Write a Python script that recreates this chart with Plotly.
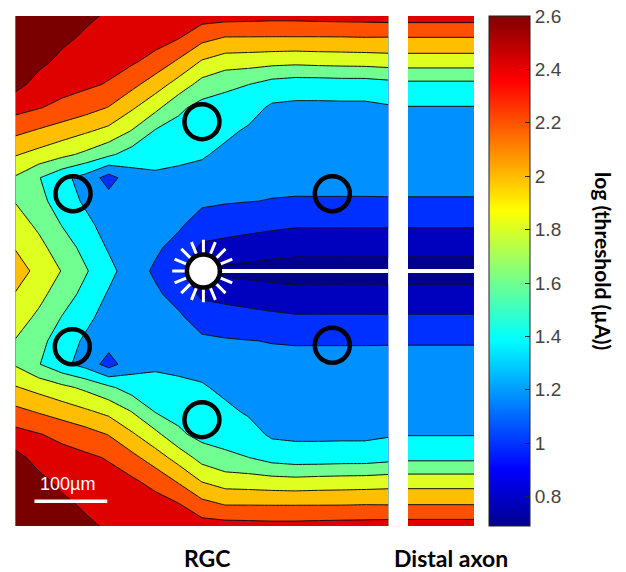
import plotly.graph_objects as go

# ---------------- data ----------------
# model grid positions in micrometres (soma at 0,0; axon along +x at y = 0)
x_um = [-256, -224, -192, -160, -128, -96, -64, -32, 0, 32, 64, 96, 128, 160, 192, 224, 256]
y_um = [-352, -320, -288, -256, -224, -192, -160, -128, -96, -64, -32, 0,
        32, 64, 96, 128, 160, 192, 224, 256, 288, 320, 352]

# log10 threshold (uA) at each grid column, rows named by distance from the axon line
thr_d0 = [2.08, 1.95, 1.79, 1.62, 1.46, 1.29, 1.17, 1.05, 0.85, 0.753, 0.735, 0.718, 0.703, 0.703, 0.703, 0.703, 0.703]
thr_d32 = [1.99, 1.858, 1.697, 1.542, 1.38, 1.29, 1.233, 1.13, 0.965, 0.934, 0.907, 0.883, 0.864, 0.864, 0.864, 0.864, 0.864]
thr_d64 = [1.891, 1.76, 1.59, 1.451, 1.32, 1.29, 1.28, 1.232, 1.112, 1.09, 1.067, 1.043, 1.024, 1.024, 1.024, 1.024, 1.024]
thr_d96 = [1.79, 1.66, 1.50, 1.37, 1.28, 1.30, 1.327, 1.297, 1.236, 1.216, 1.205, 1.194, 1.19, 1.19, 1.19, 1.19, 1.19]
thr_d128 = [1.78, 1.61, 1.45, 1.33, 1.12, 1.32, 1.374, 1.362, 1.332, 1.287, 1.262, 1.245, 1.239, 1.24, 1.24, 1.24, 1.244]
thr_d160 = [2.015, 1.934, 1.851, 1.759, 1.64, 1.506, 1.456, 1.436, 1.42, 1.359, 1.318, 1.291, 1.285, 1.285, 1.286, 1.286, 1.294]
thr_d192 = [2.248, 2.177, 2.102, 2.025, 1.943, 1.787, 1.581, 1.524, 1.48, 1.437, 1.375, 1.338, 1.33, 1.331, 1.332, 1.331, 1.345]
thr_d224 = [2.468, 2.409, 2.35, 2.279, 2.19, 2.025, 1.852, 1.64, 1.53, 1.525, 1.471, 1.37, 1.36, 1.36, 1.36, 1.36, 1.38]
thr_d256 = [2.662, 2.529, 2.47, 2.437, 2.384, 2.255, 2.097, 1.918, 1.725, 1.638, 1.601, 1.52, 1.49, 1.49, 1.50, 1.50, 1.53]
thr_d288 = [2.76, 2.649, 2.556, 2.504, 2.47, 2.43, 2.331, 2.174, 1.986, 1.902, 1.889, 1.87, 1.858, 1.872, 1.88, 1.886, 1.902]
thr_d320 = [2.86, 2.75, 2.64, 2.572, 2.53, 2.49, 2.48, 2.41, 2.26, 2.188, 2.187, 2.186, 2.186, 2.186, 2.187, 2.193, 2.19]
thr_d352 = [2.96, 2.85, 2.72, 2.64, 2.58, 2.54, 2.53, 2.47, 2.50, 2.497, 2.49, 2.479, 2.48, 2.49, 2.497, 2.50, 2.51]

z_rgc = [thr_d352, thr_d320, thr_d288, thr_d256, thr_d224, thr_d192, thr_d160, thr_d128,
         thr_d96, thr_d64, thr_d32, thr_d0, thr_d32, thr_d64, thr_d96, thr_d128,
         thr_d160, thr_d192, thr_d224, thr_d256, thr_d288, thr_d320, thr_d352]

# distal axon panel: threshold varies only across the axon
distal_x = [0, 1]
distal_thr = [2.51, 2.193, 1.902, 1.55, 1.39, 1.348, 1.297, 1.245, 1.19, 1.024, 0.864, 0.703,
              0.864, 1.024, 1.19, 1.245, 1.297, 1.348, 1.39, 1.55, 1.902, 2.193, 2.51]

# electrodes (µm) and soma
electrode_x = [0, -177, 179, -178, 179, 0]
electrode_y = [205, 106, 106, -104, -102, -204]
soma_x = [2]
soma_y = [0]
spoke_angles = [0, 22.5]

# contour levels and colour bar
level_start, level_end, level_step = 0.8, 2.6, 0.2
cbar_min, cbar_max = 0.69, 2.6
cbar_tickvals = [0.8, 1.0, 1.2, 1.4, 1.6, 1.8, 2.0, 2.2, 2.4, 2.6]
cbar_ticktext = ["0.8", "1", "1.2", "1.4", "1.6", "1.8", "2", "2.2", "2.4", "2.6"]
scale_bar_um = 100
scale_bar_text = "100µm"

# ---------------- styles ----------------
band_colors = ["#00008F", "#0000BF", "#0030FF", "#0090FF", "#00FFFF", "#70FF90",
               "#DFFF20", "#FFBF00", "#FF5000", "#DF0000", "#7A0000"]
nb = len(band_colors) - 1
fill_scale = [[j / nb, c] for j, c in enumerate(band_colors)]
jet = [[0.0, "#00008F"], [0.111, "#0000FF"], [0.365, "#00FFFF"],
       [0.619, "#FFFF00"], [0.873, "#FF0000"], [1.0, "#800000"]]

W, H = 626, 572
main_dom_x = [15.5 / W, 388.4 / W]
side_dom_x = [408 / W, 474 / W]
dom_y = [(H - 526) / H, (H - 16) / H]

contour_common = dict(
    autocontour=False,
    contours=dict(start=level_start, end=level_end, size=level_step,
                  coloring="fill", showlines=True),
    colorscale=fill_scale,
    line=dict(color="#111111", width=1, smoothing=0),
    showscale=False,
    hoverinfo="skip",
)

fig = go.Figure()

fig.add_trace(go.Contour(x=x_um, y=y_um, z=z_rgc, xaxis="x", yaxis="y", **contour_common))
fig.add_trace(go.Contour(x=distal_x, y=y_um, z=[[v, v] for v in distal_thr],
                         xaxis="x2", yaxis="y2", **contour_common))

# axon (white line) in both panels
fig.add_trace(go.Scatter(x=[soma_x[0], x_um[-1]], y=[soma_y[0], soma_y[0]], mode="lines",
                         line=dict(color="white", width=4), xaxis="x", yaxis="y",
                         hoverinfo="skip", showlegend=False))
fig.add_trace(go.Scatter(x=distal_x, y=[soma_y[0], soma_y[0]], mode="lines",
                         line=dict(color="white", width=4), xaxis="x2", yaxis="y2",
                         hoverinfo="skip", showlegend=False))

# soma: white spokes + white disc with black rim
fig.add_trace(go.Scatter(x=soma_x * len(spoke_angles), y=soma_y * len(spoke_angles), mode="markers",
                         marker=dict(symbol="asterisk-open", size=52, angle=spoke_angles,
                                     color="white", line=dict(color="white", width=3)),
                         hoverinfo="skip", showlegend=False))
fig.add_trace(go.Scatter(x=soma_x, y=soma_y, mode="markers",
                         marker=dict(symbol="circle", size=33, color="white",
                                     line=dict(color="black", width=4.5)),
                         hoverinfo="skip", showlegend=False))

# electrodes
fig.add_trace(go.Scatter(x=electrode_x, y=electrode_y, mode="markers",
                         marker=dict(symbol="circle-open", size=35, color="black",
                                     line=dict(color="black", width=4.5)),
                         hoverinfo="skip", showlegend=False))

# colour bar carrier
fig.add_trace(go.Scatter(x=[None], y=[None], mode="markers", showlegend=False, hoverinfo="skip",
                         marker=dict(color=[cbar_min], cmin=cbar_min, cmax=cbar_max,
                                     colorscale=jet, showscale=True,
                                     colorbar=dict(
                                         x=489 / W, xanchor="left", xpad=0, ypad=0,
                                         y=(H - 271) / H, yanchor="middle",
                                         len=510 / H, lenmode="fraction",
                                         thickness=41, thicknessmode="pixels",
                                         outlinewidth=1, outlinecolor="#222222",
                                         tickmode="array", tickvals=cbar_tickvals,
                                         ticktext=cbar_ticktext,
                                         ticks="inside", ticklen=5, tickcolor="#222222",
                                         tickfont=dict(family="Liberation Sans", size=19,
                                                       color="#444444"),
                                     ))))

# scale bar
sb_x0 = -230
sb_y = -316
fig.add_shape(type="line", xref="x", yref="y", x0=sb_x0, x1=sb_x0 + scale_bar_um,
              y0=sb_y, y1=sb_y, line=dict(color="white", width=3.5))
fig.add_annotation(x=sb_x0 + scale_bar_um / 2 - 4, y=-292, xref="x", yref="y",
                   text=scale_bar_text, showarrow=False,
                   font=dict(family="Liberation Sans", size=18, color="white"))

label_font = dict(family="Lato", size=23, color="black")
fig.add_annotation(x=207 / W, y=(H - 558) / H, xref="paper", yref="paper", text="<b>RGC</b>",
                   showarrow=False, font=label_font, xanchor="center", yanchor="middle")
fig.add_annotation(x=451 / W, y=(H - 558) / H, xref="paper", yref="paper", text="<b>Distal axon</b>",
                   showarrow=False, font=label_font, xanchor="center", yanchor="middle")
fig.add_annotation(x=604 / W, y=(H - 261) / H, xref="paper", yref="paper",
                   text="<b>log (threshold (µA))</b>", textangle=90, showarrow=False,
                   font=dict(family="Lato", size=21, color="black"),
                   xanchor="center", yanchor="middle")

axis_off = dict(visible=False, showgrid=False, zeroline=False, fixedrange=True)
fig.update_layout(
    width=W, height=H,
    margin=dict(l=0, r=0, t=0, b=0),
    paper_bgcolor="white", plot_bgcolor="white",
    showlegend=False,
    xaxis=dict(domain=main_dom_x, range=[x_um[0], x_um[-1]], **axis_off),
    yaxis=dict(domain=dom_y, range=[-350, 350], **axis_off),
    xaxis2=dict(domain=side_dom_x, range=[distal_x[0], distal_x[-1]], anchor="y2", **axis_off),
    yaxis2=dict(domain=dom_y, range=[-350, 350], anchor="x2", **axis_off),
)

fig.write_html("out.html", config={"displayModeBar": False})

# remove the browser's default page margin so the figure sits at the window origin
with open("out.html", encoding="utf-8") as fh:
    page = fh.read()
page = page.replace("<head>", "<head><style>html,body{margin:0;padding:0;overflow:hidden;}</style>", 1)
with open("out.html", "w", encoding="utf-8") as fh:
    fh.write(page)
